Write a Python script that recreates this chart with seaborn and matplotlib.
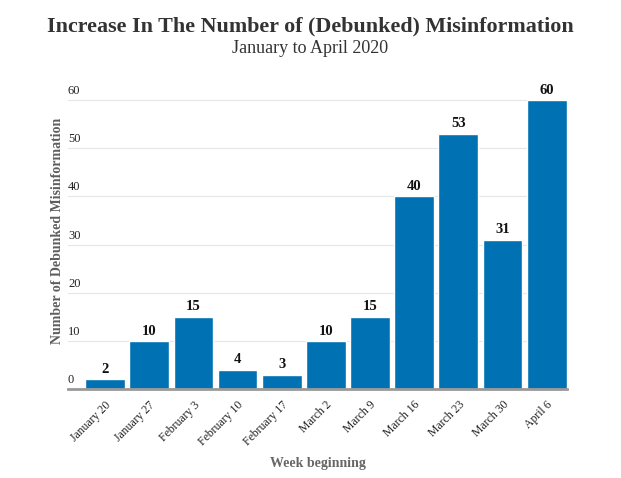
import numpy as np
import pandas as pd
import matplotlib
matplotlib.use("Agg")
import matplotlib.pyplot as plt
import matplotlib.transforms as mtransforms
import seaborn as sns

# Data
weeks = ["January 20", "January 27", "February 3", "February 10", "February 17",
         "March 2", "March 9", "March 16", "March 23", "March 30", "April 6"]
counts = [2, 10, 15, 4, 3, 10, 15, 40, 53, 31, 60]
yticks = [0, 10, 20, 30, 40, 50, 60]

df = pd.DataFrame({"week": weeks, "count": counts})

sns.set_style("white")
plt.rcParams["font.family"] = ["Liberation Serif", "DejaVu Serif"]

fig = plt.figure(figsize=(6.21, 4.78), dpi=100)
ax = fig.add_axes([0.1095, 0.186, 0.8035, 0.625])

sns.barplot(data=df, x="week", y="count", color="#0071b2", saturation=1,
            width=0.9, ax=ax, zorder=3)

ax.set_xlim(-0.84, 10.46)
ax.set_ylim(0, 62)

# gridlines and y labels sitting above them
ax.set_yticks(yticks)
ax.set_yticklabels([])
ax.tick_params(axis="y", length=0)
ax.grid(axis="y", color="#e6e6e6", linewidth=0.8, zorder=0)
trans = mtransforms.blended_transform_factory(ax.transAxes, ax.transData)
for t in yticks:
    ax.text(0.0, t + 0.6, str(t), transform=trans, ha="left", va="bottom",
            fontsize=9, color="#222222")

for s in ["top", "right", "left"]:
    ax.spines[s].set_visible(False)
ax.spines["bottom"].set_color("#999999")
ax.spines["bottom"].set_linewidth(2)
ax.spines["bottom"].set_zorder(4)

# value labels
for i, v in enumerate(counts):
    ax.text(i, v + 0.7, str(v), ha="center", va="bottom", fontsize=10.5,
            fontweight="bold", color="#111111")

ax.tick_params(axis="x", length=0, pad=7)
plt.setp(ax.get_xticklabels(), rotation=45, ha="right", rotation_mode="anchor",
         fontsize=8.5, color="#222222")

ax.set_xlabel("Week beginning", fontsize=10, fontweight="bold", color="#666666",
              va="center")
ax.xaxis.set_label_coords(0.5, -0.25)
ax.set_ylabel("Number of Debunked Misinformation", fontsize=10,
              fontweight="bold", color="#5e5e5e")
ax.yaxis.set_label_coords(-0.009, 0.528)

fig.text(0.5, 0.945, "Increase In The Number of (Debunked) Misinformation",
         ha="center", va="center", fontsize=15.8, fontweight="bold", color="#333333")
fig.text(0.5, 0.898, "January to April 2020", ha="center", va="center",
         fontsize=13, color="#333333")

fig.savefig("out.png", dpi=100)
